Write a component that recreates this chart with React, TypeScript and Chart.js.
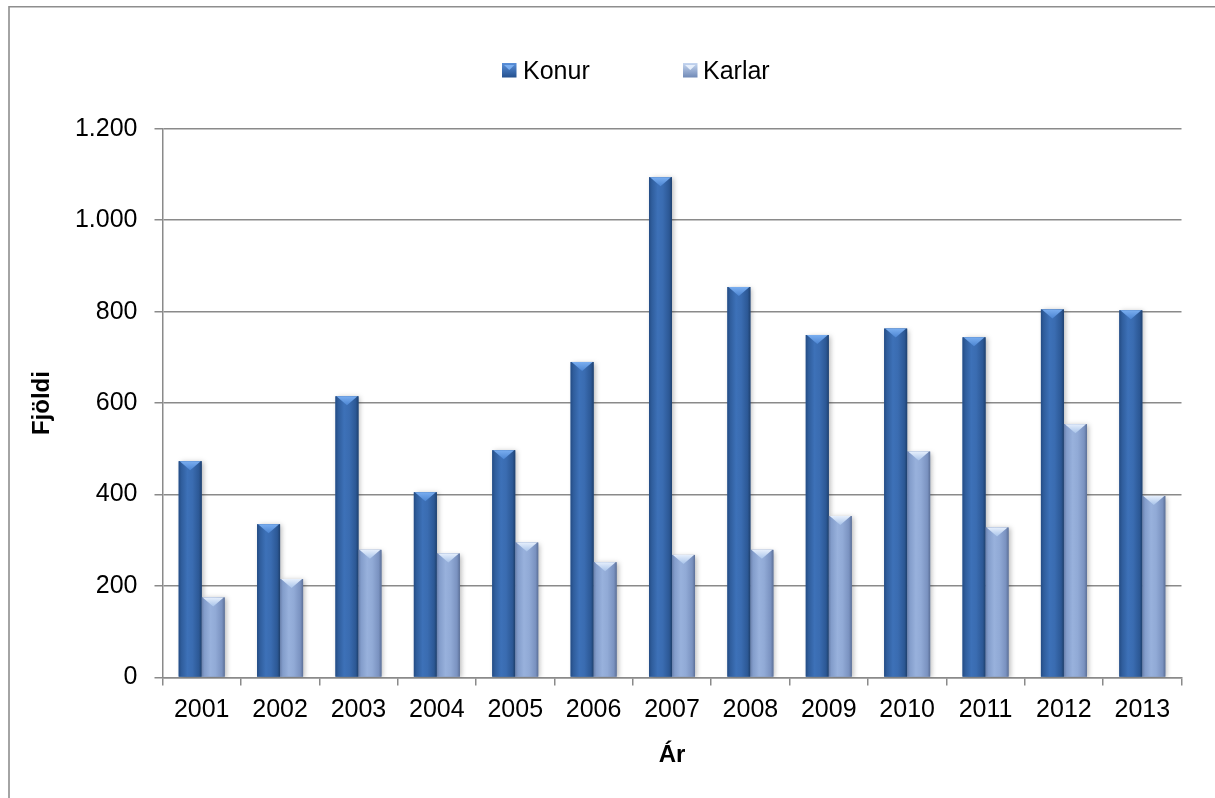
import React, { useEffect, useRef } from 'react';
import { Chart, registerables } from 'chart.js';

Chart.register(...registerables);

// ---- data ----
const years = ['2001', '2002', '2003', '2004', '2005', '2006', '2007', '2008', '2009', '2010', '2011', '2012', '2013'];
const konur = [473, 335, 615, 405, 497, 690, 1094, 854, 749, 763, 744, 805, 803];
const karlar = [175, 215, 279, 271, 295, 252, 268, 279, 353, 494, 328, 554, 397];
const yTickValues = [0, 200, 400, 600, 800, 1000, 1200];
const seriesNames = ['Konur', 'Karlar'];
const xTitle = 'Ár';
const yTitle = 'Fjöldi';

// ---- styling ----
const FONT = 'Liberation Sans, Arial, Helvetica, sans-serif';
const AXIS_GRAY = '#8a8a8a';

type BarLook = { base: string; stops: [number, string][]; tri: [string, string]; legendStops: [string, string] };
const looks: BarLook[] = [
  {
    base: '#3a6cb0',
    stops: [[0, '#244c84'], [0.12, '#2f5d9c'], [0.38, '#3d71b8'], [0.6, '#3a6cb1'], [0.88, '#2c5895'], [1, '#1f416f']],
    tri: ['#7aaef0', '#4c85d2'],
    legendStops: ['#5a90da', '#24508e'],
  },
  {
    base: '#90a9d6',
    stops: [[0, '#6a81ad'], [0.12, '#839dcb'], [0.38, '#98b1dc'], [0.6, '#91aad6'], [0.88, '#7a92c0'], [1, '#5c7098']],
    tri: ['#e6effc', '#a9c4ea'],
    legendStops: ['#c6d7f1', '#7089b6'],
  },
];

const fmt = (v: number) => String(v).replace(/\B(?=(\d{3})+(?!\d))/g, '.');

const frame = {
  id: 'frame',
  beforeDraw(chart: any) {
    const ctx = chart.ctx;
    ctx.save();
    ctx.fillStyle = '#ffffff';
    ctx.fillRect(0, 0, chart.width, chart.height);
    ctx.strokeStyle = '#8e8e8e';
    ctx.lineWidth = 1.6;
    ctx.beginPath();
    ctx.moveTo(9, chart.height);
    ctx.lineTo(9, 6.8);
    ctx.lineTo(chart.width, 6.8);
    ctx.stroke();
    ctx.restore();
  },
};

const bevelBars = {
  id: 'bevelBars',
  afterDatasetsDraw(chart: any) {
    const ctx = chart.ctx;
    const area = chart.chartArea;
    ctx.save();
    ctx.beginPath();
    ctx.rect(area.left, area.top - 2, area.right - area.left, area.bottom - area.top + 2);
    ctx.clip();
    chart.data.datasets.forEach((_: any, di: number) => {
      const meta = chart.getDatasetMeta(di);
      const look = looks[di];
      meta.data.forEach((el: any) => {
        const { x, y, width, base } = el.getProps(['x', 'y', 'width', 'base'], true);
        const l = x - width / 2;
        const r = x + width / 2;
        const h = base - y;
        // body with horizontal shading and soft shadow
        ctx.save();
        ctx.shadowColor = 'rgba(0,0,0,0.28)';
        ctx.shadowBlur = 5;
        ctx.shadowOffsetX = 2;
        ctx.shadowOffsetY = 1;
        const g = ctx.createLinearGradient(l, 0, r, 0);
        look.stops.forEach(([o, c]) => g.addColorStop(o, c));
        ctx.fillStyle = g;
        ctx.fillRect(l, y, width, h);
        ctx.restore();
        // top bevel triangle
        const th = Math.min(9, h);
        const tg = ctx.createLinearGradient(0, y, 0, y + th);
        tg.addColorStop(0, look.tri[0]);
        tg.addColorStop(1, look.tri[1]);
        ctx.fillStyle = tg;
        ctx.beginPath();
        ctx.moveTo(l + 1, y);
        ctx.lineTo(r - 1, y);
        ctx.lineTo(x, y + th);
        ctx.closePath();
        ctx.fill();
      });
    });
    ctx.restore();
  },
};

const legendPos = [
  { box: 502, text: 523 },
  { box: 683, text: 703 },
];

const customLegend = {
  id: 'customLegend',
  afterDraw(chart: any) {
    const ctx = chart.ctx;
    ctx.save();
    chart.data.datasets.forEach((ds: any, i: number) => {
      const p = legendPos[i];
      const look = looks[i];
      const bx = p.box, by = 63, bs = 14.5;
      const g = ctx.createLinearGradient(0, by, 0, by + bs);
      g.addColorStop(0, look.legendStops[0]);
      g.addColorStop(1, look.legendStops[1]);
      ctx.fillStyle = g;
      ctx.fillRect(bx, by, bs, bs);
      ctx.fillStyle = look.tri[0];
      ctx.beginPath();
      ctx.moveTo(bx + 2, by + 2);
      ctx.lineTo(bx + bs - 2, by + 2);
      ctx.lineTo(bx + bs / 2, by + 7);
      ctx.closePath();
      ctx.fill();
      ctx.fillStyle = '#000';
      ctx.font = `25px ${FONT}`;
      ctx.textBaseline = 'alphabetic';
      ctx.textAlign = 'left';
      ctx.fillText(ds.label, p.text, 79.3);
    });
    ctx.restore();
  },
};

export default function App() {
  const ref = useRef<HTMLCanvasElement>(null);

  useEffect(() => {
    if (!ref.current) return;
    const chart = new Chart(ref.current, {
      type: 'bar',
      data: {
        labels: years,
        datasets: [
          { label: seriesNames[0], data: konur, backgroundColor: looks[0].base, categoryPercentage: 0.587, barPercentage: 1 },
          { label: seriesNames[1], data: karlar, backgroundColor: looks[1].base, categoryPercentage: 0.587, barPercentage: 1 },
        ],
      },
      options: {
        responsive: false,
        animation: false,
        devicePixelRatio: 1,
        layout: { padding: { top: 128.8, right: 33.5, bottom: 28.6, left: 27.6 } },
        plugins: {
          legend: { display: false },
          tooltip: { enabled: false },
        },
        scales: {
          x: {
            offset: true,
            grid: { display: true, drawOnChartArea: false, drawTicks: true, tickLength: 8, offset: true, color: AXIS_GRAY, lineWidth: 1.5 },
            border: { display: true, color: AXIS_GRAY, width: 1.5 },
            ticks: { font: { family: FONT, size: 25 }, color: '#000', padding: 10, autoSkip: false, maxRotation: 0 },
            title: { display: true, text: xTitle, font: { family: FONT, size: 24, weight: 'bold' }, color: '#000', padding: 0 },
            afterFit: (s: any) => { s.height = 92; },
          },
          y: {
            min: 0,
            max: 1200,
            afterBuildTicks: (s: any) => { s.ticks = yTickValues.map((v) => ({ value: v })); },
            ticks: { font: { family: FONT, size: 25 }, color: '#000', padding: 17, callback: (v: any) => fmt(Number(v)) },
            grid: { color: AXIS_GRAY, lineWidth: 1.5, tickLength: 8, drawTicks: true },
            border: { display: true, color: AXIS_GRAY, width: 1.5 },
            title: { display: true, text: yTitle, font: { family: FONT, size: 24, weight: 'bold' }, color: '#000', padding: 0 },
            afterFit: (s: any) => { s.width = 134.9; },
          },
        },
      } as any,
      plugins: [frame, bevelBars, customLegend],
    });
    return () => chart.destroy();
  }, []);

  return (
    <div style={{ position: 'fixed', left: 0, top: 0, width: 1215, height: 798, background: '#fff' }}>
      <canvas ref={ref} width={1215} height={798} style={{ display: 'block', width: 1215, height: 798 }} />
    </div>
  );
}
